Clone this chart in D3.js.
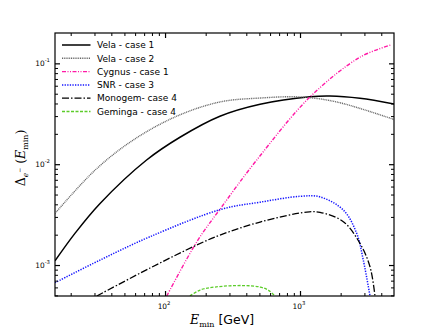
<!DOCTYPE html>
<html><head><meta charset="utf-8">
<script src="https://cdn.jsdelivr.net/npm/d3@7"></script>
<style>body{margin:0;background:#fff}</style>
</head><body><svg id="c" width="438" height="329"></svg>
<script>
// ---- data ----
const velaCase1E = [15.3, 21.5, 33, 73, 129, 255, 506, 1186, 1667, 2780, 5000];
const velaCase1  = [1.10e-3, 2.06e-3, 4.08e-3, 1.10e-2, 1.85e-2, 2.99e-2, 3.93e-2, 4.66e-2, 4.74e-2, 4.50e-2, 3.95e-2];
const velaCase2E = [15.3, 30.3, 57.9, 122, 255, 506, 1000, 1871, 5000];
const velaCase2  = [3.25e-3, 8.73e-3, 1.73e-2, 2.99e-2, 4.14e-2, 4.53e-2, 4.64e-2, 4.14e-2, 2.77e-2];
const cygnusE    = [103, 172, 263, 478, 1186, 2780, 4780];
const cygnus     = [4.93e-4, 1.70e-3, 3.78e-3, 1.10e-2, 4.64e-2, 0.115, 0.153];
const snrE       = [15.3, 33, 77.4, 263, 506, 1000, 1406, 2094, 2630, 2943, 3300];
const snr        = [6.68e-4, 1.12e-3, 1.91e-3, 3.58e-3, 4.20e-3, 4.80e-3, 4.74e-3, 3.51e-3, 2.06e-3, 1.12e-3, 4.93e-4];
const monogemE   = [31.2, 77.4, 172, 255, 506, 1122, 1406, 2094, 2780, 3300, 3593];
const monogem    = [4.93e-4, 9.34e-4, 1.58e-3, 1.98e-3, 2.67e-3, 3.35e-3, 3.33e-3, 2.69e-3, 1.64e-3, 9.62e-4, 4.93e-4];
const gemingaE   = [153, 182, 234, 378, 506, 580, 653];
const geminga    = [4.93e-4, 5.65e-4, 6.05e-4, 6.26e-4, 6.05e-4, 5.65e-4, 4.93e-4];

const seriesNames = ["Vela - case 1", "Vela - case 2", "Cygnus - case 1", "SNR - case 3", "Monogem- case 4", "Geminga - case 4"];
const xMajorTicks = [100, 1000];
const xTickExp = ["2", "3"];
const yMajorTicks = [1e-3, 1e-2, 1e-1];
const yTickExp = ["-3", "-2", "-1"];

// ---- layout ----
const L = 55, R = 394, T = 33, B = 296;
const svg = d3.select("#c");
const x = d3.scaleLog().domain([15.3, 4970]).range([L, R]);
const y = d3.scaleLog().domain([4.93e-4, 0.2]).range([B, T]);

const styles = [
  {color: "#000", width: 1.5, dash: null},
  {color: "#666", width: 1.4, dash: "1,0.8"},
  {color: "#ff1aa6", width: 1.4, dash: "4,1.5,1,1.5,1,1.5"},
  {color: "#1414ff", width: 1.5, dash: "1.3,1.3"},
  {color: "#000", width: 1.3, dash: "7,2,1.5,2"},
  {color: "#5ccc2a", width: 1.3, dash: "3,1.5"}
];
const series = [
  [velaCase1E, velaCase1], [velaCase2E, velaCase2], [cygnusE, cygnus],
  [snrE, snr], [monogemE, monogem], [gemingaE, geminga]
];

svg.append("defs").append("clipPath").attr("id", "clip")
  .append("rect").attr("x", L).attr("y", T).attr("width", R - L).attr("height", B - T);

const line = d3.line().x(d => x(d[0])).y(d => y(d[1])).curve(d3.curveCatmullRom.alpha(0.5));
const gLines = svg.append("g").attr("clip-path", "url(#clip)");
series.forEach((s, i) => {
  const pts = s[0].map((e, j) => [e, s[1][j]]);
  gLines.append("path").attr("d", line(pts))
    .attr("fill", "none").attr("stroke", styles[i].color)
    .attr("stroke-width", styles[i].width)
    .attr("stroke-dasharray", styles[i].dash);
});

// ---- ticks ----
function minorLog(domain) {
  const out = [];
  for (let p = -5; p <= 4; p++) for (let m = 2; m <= 9; m++) {
    const v = m * Math.pow(10, p);
    if (v > domain[0] * 1.001 && v < domain[1] * 0.999) out.push(v);
  }
  return out;
}
const xMinor = minorLog(x.domain());
const yMinor = minorLog(y.domain());
function axisG(axis, tx, ty) {
  const g = svg.append("g").attr("transform", `translate(${tx},${ty})`).call(axis);
  g.select(".domain").remove();
  g.selectAll("line").attr("stroke", "#000");
  return g;
}
axisG(d3.axisBottom(x).tickValues(xMajorTicks).tickSize(-5).tickFormat(() => ""), 0, B).selectAll("line").attr("stroke-width", 1.2);
axisG(d3.axisBottom(x).tickValues(xMinor).tickSize(-3).tickFormat(() => ""), 0, B);
axisG(d3.axisTop(x).tickValues(xMajorTicks).tickSize(-5).tickFormat(() => ""), 0, T).selectAll("line").attr("stroke-width", 1.2);
axisG(d3.axisTop(x).tickValues(xMinor).tickSize(-3).tickFormat(() => ""), 0, T);
axisG(d3.axisLeft(y).tickValues(yMajorTicks).tickSize(-5).tickFormat(() => ""), L, 0).selectAll("line").attr("stroke-width", 1.2);
axisG(d3.axisLeft(y).tickValues(yMinor).tickSize(-3).tickFormat(() => ""), L, 0);
axisG(d3.axisRight(y).tickValues(yMajorTicks).tickSize(-5).tickFormat(() => ""), R, 0).selectAll("line").attr("stroke-width", 1.2);
axisG(d3.axisRight(y).tickValues(yMinor).tickSize(-3).tickFormat(() => ""), R, 0);

svg.append("rect").attr("x", L).attr("y", T).attr("width", R - L).attr("height", B - T)
  .attr("fill", "none").attr("stroke", "#000").attr("stroke-width", 1.2);

// tick labels
const tf = "DejaVu Sans";
xMajorTicks.forEach((v, i) => {
  const t = svg.append("text").attr("x", x(v) - 1).attr("y", 308.5)
    .attr("text-anchor", "middle").attr("font-family", tf).attr("font-size", 7.4).attr("fill", "#000");
  t.append("tspan").text("10");
  t.append("tspan").attr("dy", -3.5).attr("font-size", 5.3).text(xTickExp[i]);
});
yMajorTicks.forEach((v, i) => {
  const t = svg.append("text").attr("x", 50).attr("y", y(v) + 2.6)
    .attr("text-anchor", "end").attr("font-family", tf).attr("font-size", 7.4).attr("fill", "#000");
  t.append("tspan").text("10");
  t.append("tspan").attr("dy", -3.5).attr("font-size", 5.3).text(yTickExp[i]);
});

// ---- legend ----
const lg = svg.append("g");
seriesNames.forEach((n, i) => {
  const ly = 45 + i * 13.3;
  lg.append("line").attr("x1", 62).attr("x2", 90.5).attr("y1", ly).attr("y2", ly)
    .attr("stroke", styles[i].color).attr("stroke-width", styles[i].width)
    .attr("stroke-dasharray", styles[i].dash);
  lg.append("text").attr("x", 97).attr("y", ly + 3.2).attr("font-family", tf)
    .attr("font-size", 9).attr("fill", "#000").text(n);
});

// ---- axis labels ----
const serif = "DejaVu Serif";
const xl = svg.append("text").attr("x", 190).attr("y", 324).attr("fill", "#000");
xl.append("tspan").attr("font-family", serif).attr("font-style", "italic").attr("font-size", 12.5).text("E");
xl.append("tspan").attr("font-family", serif).attr("font-size", 8).attr("dy", 2.5).text("min");
xl.append("tspan").attr("font-family", tf).attr("font-size", 12.5).attr("dy", -2.5).text(" [GeV]");

const yl = svg.append("text").attr("transform", "translate(25,158) rotate(-90)")
  .attr("text-anchor", "middle").attr("fill", "#000").attr("font-family", serif);
yl.append("tspan").attr("font-size", 12.5).text("Δ");
yl.append("tspan").attr("font-size", 7.5).attr("font-style", "italic").attr("dy", 3).text("e");
yl.append("tspan").attr("font-size", 6).attr("dy", -6.5).text("−");
yl.append("tspan").attr("font-size", 12.5).attr("dy", 3.5).text(" (");
yl.append("tspan").attr("font-size", 12.5).attr("font-style", "italic").text("E");
yl.append("tspan").attr("font-size", 8).attr("dy", 2.5).text("min");
yl.append("tspan").attr("font-size", 12.5).attr("dy", -2.5).text(")");
</script></body></html>
